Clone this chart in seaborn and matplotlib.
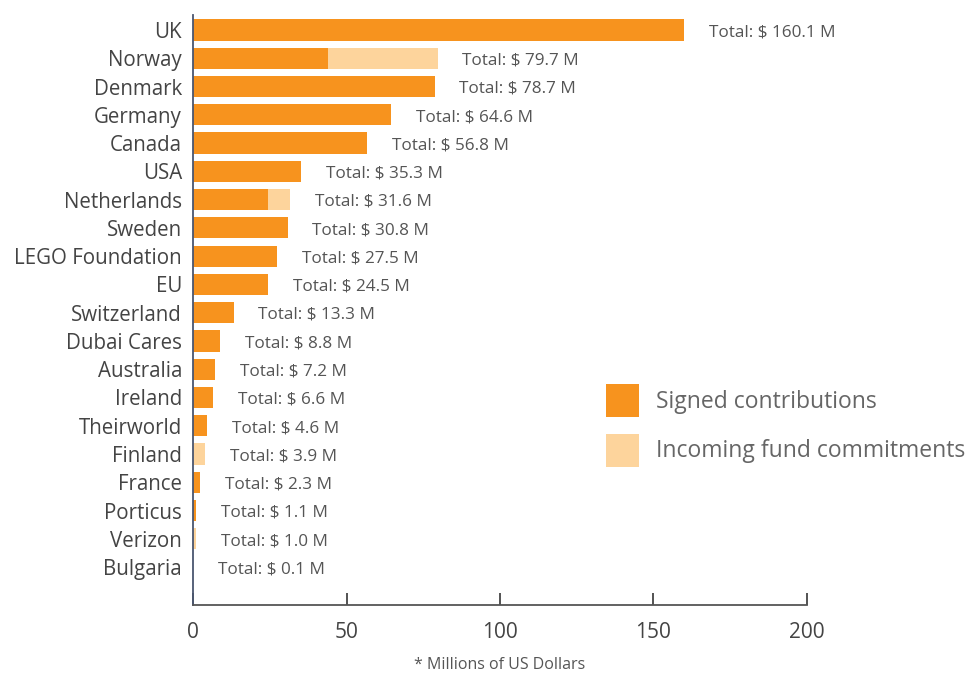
import matplotlib
matplotlib.use("Agg")
import matplotlib.pyplot as plt
import seaborn as sns
import pandas as pd
from matplotlib.patches import Patch

donors = ["UK", "Norway", "Denmark", "Germany", "Canada", "USA", "Netherlands",
          "Sweden", "LEGO Foundation", "EU", "Switzerland", "Dubai Cares",
          "Australia", "Ireland", "Theirworld", "Finland", "France", "Porticus",
          "Verizon", "Bulgaria"]
signed = [160.1, 44.0, 78.7, 64.6, 56.8, 35.3, 24.5, 30.8, 27.5, 24.5, 13.3,
          8.8, 7.2, 6.6, 4.6, 0.0, 2.3, 1.1, 0.0, 0.1]
incoming = [0.0, 35.7, 0.0, 0.0, 0.0, 0.0, 7.1, 0.0, 0.0, 0.0, 0.0,
            0.0, 0.0, 0.0, 0.0, 3.9, 0.0, 0.0, 1.0, 0.0]
totals = [160.1, 79.7, 78.7, 64.6, 56.8, 35.3, 31.6, 30.8, 27.5, 24.5, 13.3,
          8.8, 7.2, 6.6, 4.6, 3.9, 2.3, 1.1, 1.0, 0.1]
xticks = [0, 50, 100, 150, 200]

ORANGE = "#F7931E"
LIGHT = "#FDD49C"
TEXT = "#555555"

sns.set_theme(style="white")
plt.rcParams["font.family"] = ["Open Sans", "DejaVu Sans"]

df = pd.DataFrame({"donor": donors, "signed": signed, "incoming": incoming})
df["total"] = df["signed"] + df["incoming"]

fig = plt.figure(figsize=(9.67, 6.75), dpi=100)
ax = fig.add_axes([0.1996, 0.1037, 0.6349, 0.8741])

sns.barplot(data=df, y="donor", x="total", color=LIGHT, orient="h",
            width=0.75, ax=ax, saturation=1, edgecolor="none")
sns.barplot(data=df, y="donor", x="signed", color=ORANGE, orient="h",
            width=0.75, ax=ax, saturation=1, edgecolor="none")

for i, t in enumerate(totals):
    ax.text(t + 8.0, i + 0.08, f"Total: $ {t:.1f} M", va="center", ha="left",
            fontsize=12.3, color=TEXT)

ax.set_xlim(0, 200)
ax.set_ylim(20.34, -0.53)
ax.set_xticks(xticks)
ax.set_xticklabels([str(v) for v in xticks])
ax.tick_params(axis="x", bottom=True, direction="in", length=9, width=1.3,
               color="#444444", labelsize=15, labelcolor="#444444", pad=12)
ax.tick_params(axis="y", left=False, length=0, labelsize=14.8,
               labelcolor="#444444", pad=8)
ax.set_ylabel("")
ax.set_xlabel("* Millions of US Dollars", fontsize=11.5, color=TEXT, labelpad=10)

for s in ["top", "right"]:
    ax.spines[s].set_visible(False)
ax.spines["bottom"].set_color("#555555")
ax.spines["bottom"].set_linewidth(1.3)
ax.spines["left"].set_color("#4a5670")
ax.spines["left"].set_linewidth(1.3)

handles = [Patch(facecolor=ORANGE, edgecolor="none", label="Signed contributions"),
           Patch(facecolor=LIGHT, edgecolor="none", label="Incoming fund commitments")]
leg = fig.legend(handles=handles, loc="upper left", bbox_to_anchor=(0.627, 0.431),
                 frameon=False, fontsize=16.5, handlelength=1.44, handleheight=1.84,
                 labelspacing=0.72, handletextpad=0.72, borderaxespad=0,
                 borderpad=0)
for txt in leg.get_texts():
    txt.set_color("#666666")

fig.savefig("out.png", dpi=100)
